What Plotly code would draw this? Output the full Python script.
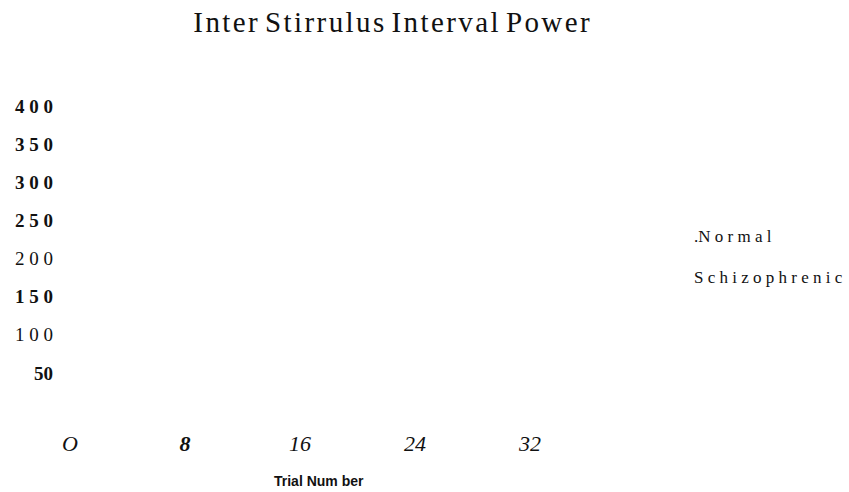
import plotly.graph_objects as go

# Chart text and axis labels
title_text = "Inter Stirrulus Interval Power"
x_title = "Trial Num ber"

x_ticks = [0, 8, 16, 24, 32]
x_tick_labels = ["<i>O</i>", "<b><i>8</i></b>", "<i>16</i>", "<i>24</i>", "<i>32</i>"]

y_ticks = [50, 100, 150, 200, 250, 300, 350, 400]
y_tick_labels = ["<b>50</b>", "1 0 0", "<b>1 5 0</b>", "2 0 0", "<b>2 5 0</b>", "<b>3 0 0</b>", "<b>3 5 0</b>", "<b>4 0 0</b>"]

# Series: no plotted observations, only legend entries
series_names = [".N o r m a l", "S c h i z o p h r e n i c"]
normal_trials = [None]
normal_power = [None]
schizo_trials = [None]
schizo_power = [None]

SERIF = "Liberation Serif, Times New Roman, serif"
SANS = "Liberation Sans, Arial, sans-serif"
HAIR = "\u200a"


def tracked(text):
    """Add a hair space between letters of each word for a wider tracking."""
    return " ".join(HAIR.join(word) for word in text.split(" "))


fig = go.Figure()
for name, xs, ys, grp in [
    (series_names[0], normal_trials, normal_power, "g1"),
    (series_names[1], schizo_trials, schizo_power, "g2"),
]:
    fig.add_trace(go.Scatter(
        x=xs, y=ys, name=name, mode="lines", legendgroup=grp,
        line=dict(color="rgba(0,0,0,0)", width=0),
        showlegend=True,
    ))

fig.update_layout(
    width=849, height=492,
    margin=dict(l=70, r=319, t=106, b=81),
    paper_bgcolor="white", plot_bgcolor="white",
    title=dict(
        text=tracked(title_text), x=391.5 / 849, xanchor="center",
        y=1 - 22 / 492, yanchor="middle", yref="container",
        font=dict(family=SERIF, size=29, color="#111"),
    ),
    xaxis=dict(
        range=[0, 32], tickvals=x_ticks, ticktext=x_tick_labels,
        showgrid=False, zeroline=False, showline=False, ticks="",
        tickfont=dict(family=SERIF, size=22, color="#111"),
        ticklabelstandoff=17,
    ),
    yaxis=dict(
        range=[0, 400], tickvals=y_ticks, ticktext=y_tick_labels,
        showgrid=False, zeroline=False, showline=False, ticks="",
        tickfont=dict(family=SERIF, size=19, color="#111"),
        ticklabelstandoff=16,
    ),
    legend=dict(
        x=654 / 849, xanchor="left", y=1 - 218 / 492, yanchor="top",
        xref="container", yref="container",
        font=dict(family=SERIF, size=17, color="#111"),
        tracegroupgap=16, itemwidth=30,
        bgcolor="rgba(0,0,0,0)",
    ),
    annotations=[dict(
        text="<b>" + x_title + "</b>",
        x=(272 - 70) / 460, y=-(481 - 411) / 305,
        xref="paper", yref="paper", xanchor="left", yanchor="middle",
        showarrow=False,
        font=dict(family=SANS, size=14, color="#111"),
    )],
)

fig.write_html("out.html")
